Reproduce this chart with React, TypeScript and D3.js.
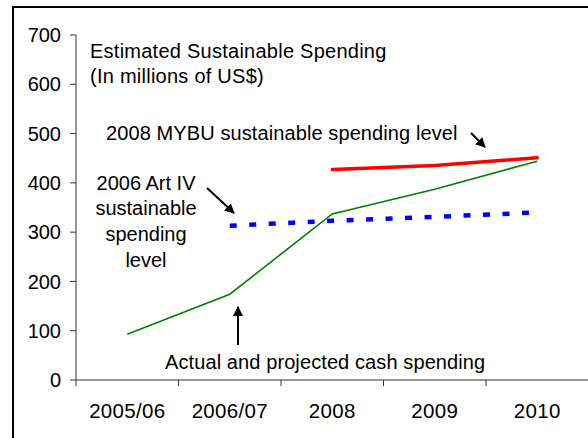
import React from "react";
import * as d3 from "d3";

const categories = ["2005/06", "2006/07", "2008", "2009", "2010"];
const cashSpending: (number | null)[] = [93, 174, 337, 387, 444];
const artIVLevel: (number | null)[] = [null, 313, 323, 331, 340];
const mybuLevel: (number | null)[] = [null, null, 427, 435, 451];
const yTicks = [0, 100, 200, 300, 400, 500, 600, 700];

const W = 588;
const H = 438;
const FONT = "'Liberation Sans', Arial, sans-serif";

export default function App() {
  const x = d3.scaleBand<string>().domain(categories).range([76, 588.5]).padding(0);
  const cx = (c: string) => (x(c) as number) + x.bandwidth() / 2;
  const y = d3.scaleLinear().domain([0, 700]).range([380, 35]);

  const mkLine = (vals: (number | null)[]) =>
    d3
      .line<number | null>()
      .defined((d) => d !== null)
      .x((_, i) => cx(categories[i]))
      .y((d) => y(d as number))(vals) || "";

  const arrow = (x1: number, y1: number, x2: number, y2: number) => (
    <line x1={x1} y1={y1} x2={x2} y2={y2} stroke="#000" strokeWidth={2} markerEnd="url(#ah)" />
  );

  return (
    <svg width={W} height={H} style={{ position: "absolute", left: 0, top: 0, background: "#fff" }} fontFamily={FONT}>
      <defs>
        <marker id="ah" viewBox="0 0 10 10" refX="9" refY="5" markerWidth="5" markerHeight="5" orient="auto" markerUnits="strokeWidth">
          <path d="M0,0 L10,5 L0,10 z" fill="#000" />
        </marker>
      </defs>
      {/* frame */}
      <line x1={13} y1={7} x2={W} y2={7} stroke="#000" strokeWidth={2} />
      <line x1={13} y1={6} x2={13} y2={H} stroke="#000" strokeWidth={2} />

      {/* y axis */}
      <line x1={76} y1={y(700)} x2={76} y2={y(0)} stroke="#333" strokeWidth={1} />
      {yTicks.map((t) => (
        <g key={t}>
          <line x1={70} x2={76} y1={y(t)} y2={y(t)} stroke="#333" strokeWidth={1} />
          <text x={61} y={y(t)} dy="0.36em" textAnchor="end" fontSize={20} fill="#000">
            {t}
          </text>
        </g>
      ))}

      {/* x axis */}
      <line x1={76} y1={380} x2={W} y2={380} stroke="#333" strokeWidth={1} />
      {categories.map((c) => (
        <g key={c}>
          <line x1={x(c) as number} x2={x(c) as number} y1={380} y2={386} stroke="#333" strokeWidth={1} />
          <text x={cx(c)} y={418} textAnchor="middle" fontSize={20.5} letterSpacing={0.3} fill="#000">
            {c}
          </text>
        </g>
      ))}

      {/* series */}
      <path d={mkLine(artIVLevel)} fill="none" stroke="#0000ff" strokeWidth={4.5} strokeDasharray="7,12.5" />
      <path d={mkLine(cashSpending)} fill="none" stroke="#008000" strokeWidth={1.6} />
      <path d={mkLine(mybuLevel)} fill="none" stroke="#ff0000" strokeWidth={3.5} strokeLinecap="round" />

      {/* texts */}
      <text x={90} y={58} fontSize={20} letterSpacing={0.25}>Estimated Sustainable Spending</text>
      <text x={90} y={83} fontSize={20} letterSpacing={0.25}>(In millions of US$)</text>
      <text x={106} y={140} fontSize={20} letterSpacing={0.1}>2008 MYBU sustainable spending level</text>
      <text x={146} y={189.5} fontSize={20} textAnchor="middle">2006 Art IV</text>
      <text x={146} y={215} fontSize={20} textAnchor="middle">sustainable</text>
      <text x={146} y={241} fontSize={20} textAnchor="middle">spending</text>
      <text x={146} y={266.5} fontSize={20} textAnchor="middle">level</text>
      <text x={165} y={369} fontSize={20} letterSpacing={0.1}>Actual and projected cash spending</text>

      {/* arrows */}
      {arrow(207, 188, 234, 213)}
      {arrow(238, 345, 238, 307)}
      {arrow(471, 133, 485, 147)}
    </svg>
  );
}
